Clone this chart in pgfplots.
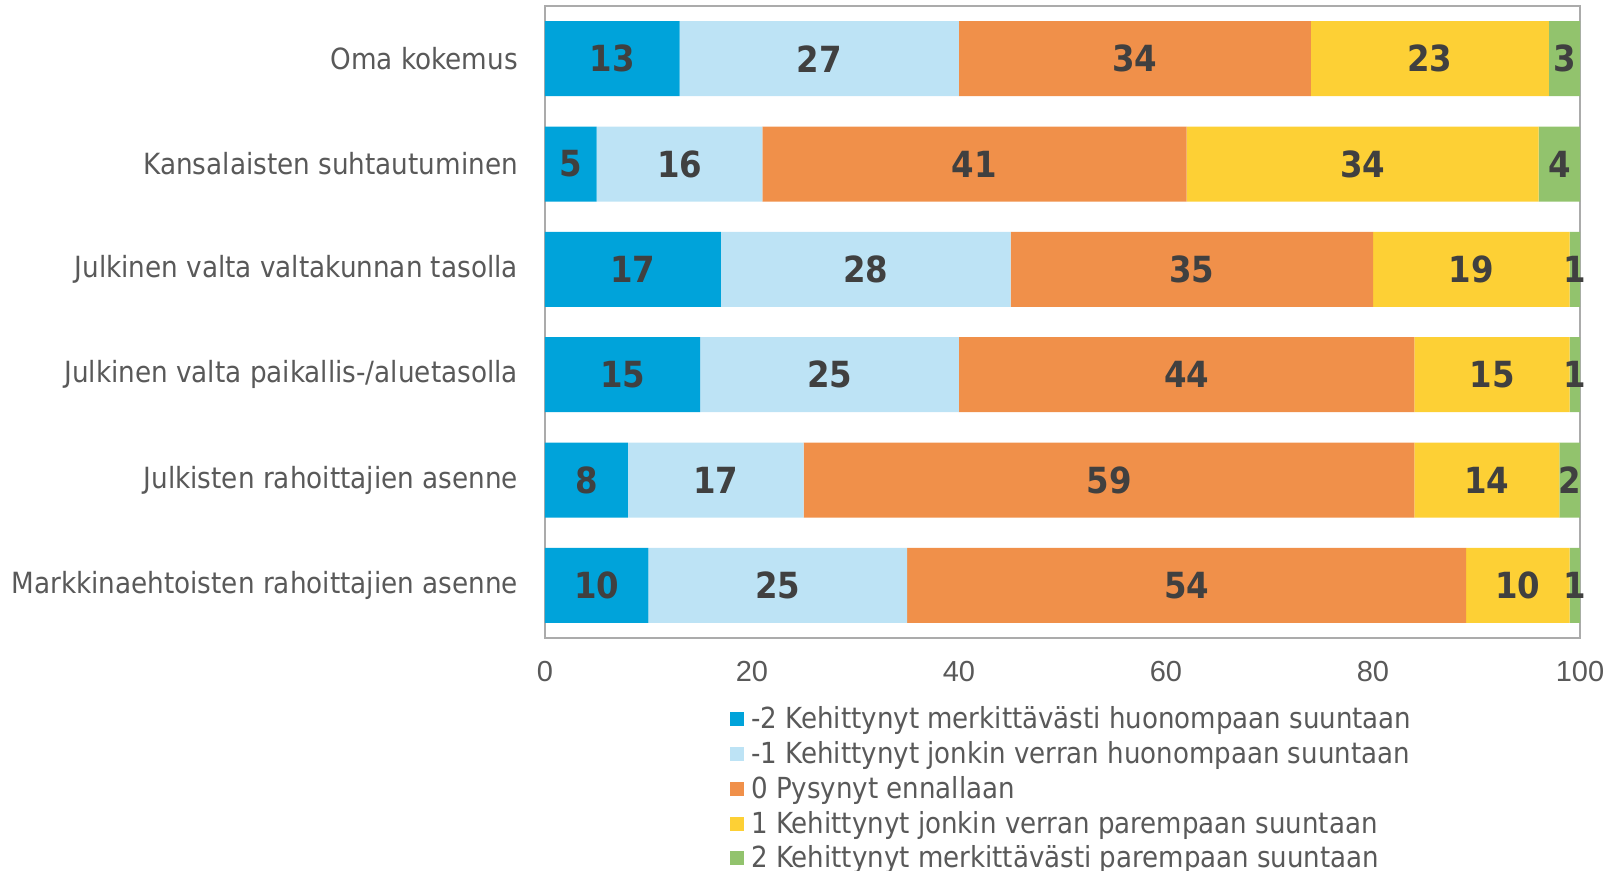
\documentclass[border=0pt]{standalone}
\usepackage{pgfplots}
\pgfplotsset{compat=1.18}
\usepackage{fontspec}
\setmainfont{DejaVu Sans Condensed}
\newfontfamily\tickfont{Liberation Sans}

\definecolor{cA}{HTML}{00A3DA}
\definecolor{cB}{HTML}{BDE3F5}
\definecolor{cC}{HTML}{F0904A}
\definecolor{cD}{HTML}{FDD035}
\definecolor{cE}{HTML}{92C36D}
\definecolor{txt}{HTML}{595959}
\definecolor{lbl}{HTML}{404040}
\definecolor{frame}{HTML}{ABABAB}

\begin{document}
\begin{tikzpicture}
% canvas: 1622 x 871 px at 0.5pt per px, axis box lower left at origin
\useasboundingbox (-272.5pt,-116.5pt) rectangle (538.5pt,319pt);
\begin{axis}[
    xbar stacked,
    scale only axis,
    width=517.5pt,
    height=316pt,
    xmin=0, xmax=100,
    ymin=-0.5, ymax=5.5,
    y dir=reverse,
    bar width=37.5pt,
    /pgf/number format/assume math mode=true,
    xtick={0,20,40,60,80,100},
    ytick={0,1,2,3,4,5},
    yticklabels={
        {Oma kokemus},
        {Kansalaisten suhtautuminen},
        {Julkinen valta valtakunnan tasolla},
        {Julkinen valta paikallis-/aluetasolla},
        {Julkisten rahoittajien asenne},
        {Markkinaehtoisten rahoittajien asenne}
    },
    major tick length=0pt,
    axis line style={draw=frame, line width=0.8pt},
    yticklabel style={font=\fontsize{14.6}{16}\selectfont, text=txt},
    yticklabel shift=10pt,
    xticklabel style={font=\tickfont\fontsize{14.5}{16}\selectfont, text=txt},
    xticklabel shift=8pt,
    point meta=rawx,
    nodes near coords,
    every node near coord/.append style={font=\bfseries\fontsize{18}{20}\selectfont, text=lbl},
    legend style={at={(axis description cs:0.1787,-0.1015)}, anchor=north west,
        draw=none, fill=none, font=\fontsize{14.5}{15}\selectfont, text=txt,
        row sep=0.9pt, inner sep=0pt,
        nodes={inner xsep=3.5pt}},
    legend cell align=left,
    legend image code/.code={\fill[#1] (0pt,-3.5pt) rectangle (7pt,3.5pt);},
]
\addplot[fill=cA, draw=none] coordinates {
    (13,0) (5,1) (17,2) (15,3) (8,4) (10,5)
};
\addplot[fill=cB, draw=none] coordinates {
    (27,0) (16,1) (28,2) (25,3) (17,4) (25,5)
};
\addplot[fill=cC, draw=none] coordinates {
    (34,0) (41,1) (35,2) (44,3) (59,4) (54,5)
};
\addplot[fill=cD, draw=none] coordinates {
    (23,0) (34,1) (19,2) (15,3) (14,4) (10,5)
};
\addplot[fill=cE, draw=none] coordinates {
    (3,0) (4,1) (1,2) (1,3) (2,4) (1,5)
};
\legend{
    -2 Kehittynyt merkittävästi huonompaan suuntaan,
    -1 Kehittynyt jonkin verran huonompaan suuntaan,
    0 Pysynyt ennallaan,
    1 Kehittynyt jonkin verran parempaan suuntaan,
    2 Kehittynyt merkittävästi parempaan suuntaan
}
\end{axis}
\end{tikzpicture}
\end{document}
